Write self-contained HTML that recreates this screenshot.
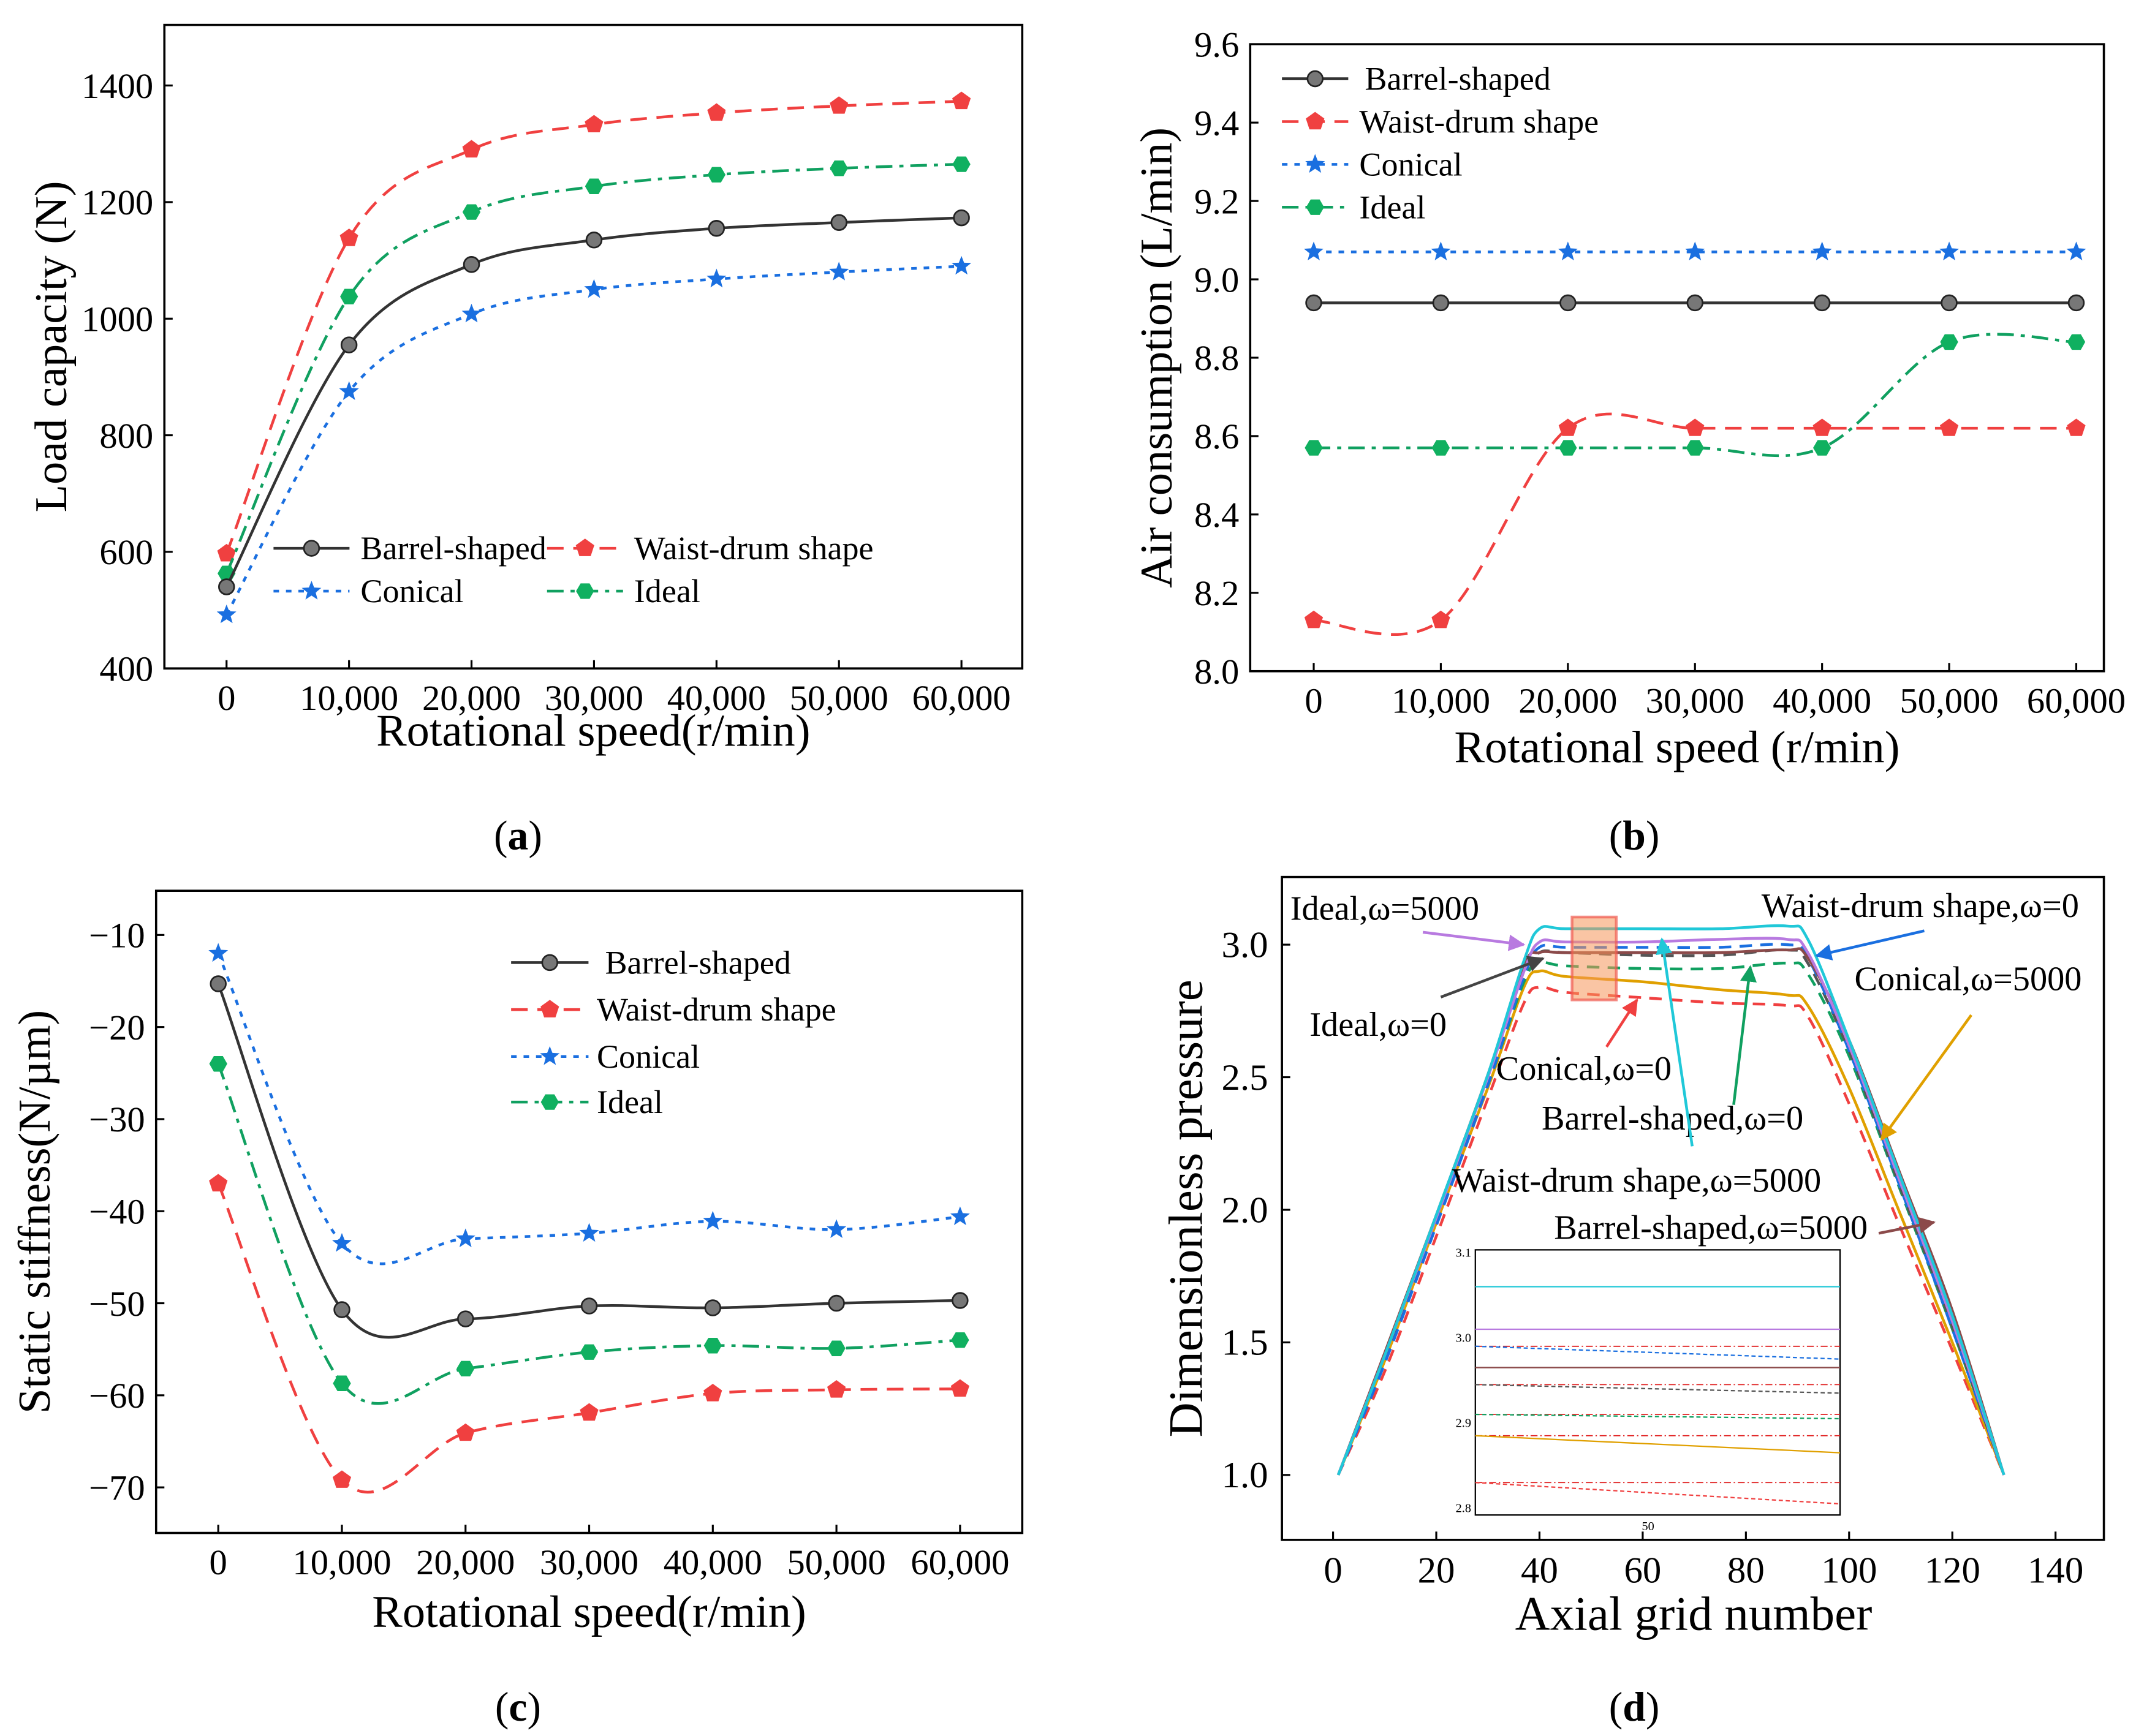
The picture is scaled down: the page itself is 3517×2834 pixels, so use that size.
<!DOCTYPE html>
<html><head><meta charset="utf-8">
<style>
html,body{margin:0;padding:0;background:#fff;}
svg{display:block;font-family:"Liberation Serif",serif;}
svg text{font-family:"Liberation Serif",serif;}
</style></head>
<body>
<svg id="fig" width="3517" height="2834" viewBox="0 0 1560 1257" xmlns="http://www.w3.org/2000/svg" font-family="Liberation Serif, serif">
<defs>
<marker id="arr" viewBox="0 0 10 10" refX="9" refY="5" markerWidth="6" markerHeight="6" orient="auto-start-reverse"><path d="M0,0 L10,5 L0,10 z" fill="context-stroke"/></marker>
</defs>
</svg>
<script>
// ---------- data ----------
const speedCats = [0,10000,20000,30000,40000,50000,60000];
const speedLabels = ["0","10,000","20,000","30,000","40,000","50,000","60,000"];
// (a) load capacity
const aBarrel = [540,955,1093,1135,1155,1165,1173];
const aWaist = [597,1138,1290,1333,1353,1365,1373];
const aConical = [492,875,1008,1050,1068,1080,1090];
const aIdeal = [563,1038,1183,1227,1247,1258,1265];
const aTicks = [400,600,800,1000,1200,1400];
// (b) air consumption
const bBarrel = [8.94,8.94,8.94,8.94,8.94,8.94,8.94];
const bWaist = [8.13,8.13,8.62,8.62,8.62,8.62,8.62];
const bConical = [9.07,9.07,9.07,9.07,9.07,9.07,9.07];
const bIdeal = [8.57,8.57,8.57,8.57,8.57,8.84,8.84];
const bTicks = [8.0,8.2,8.4,8.6,8.8,9.0,9.2,9.4,9.6];
// (c) static stiffness
const cBarrel = [-15.3,-50.7,-51.7,-50.3,-50.5,-50,-49.7];
const cWaist = [-37,-69.2,-64.1,-61.9,-59.8,-59.4,-59.3];
const cConical = [-12,-43.5,-43,-42.4,-41.1,-42,-40.6];
const cIdeal = [-24,-58.7,-57.1,-55.3,-54.6,-54.9,-54];
const cTicks = [-10,-20,-30,-40,-50,-60,-70];
// (d) pressure profiles
const dX = [1,10,20,30,37,40,45,60,75,88,92,100,110,120,130];
const dIdeal5000 = [1.0,1.45,1.97,2.5,2.9,3.01,3.01,3.01,3.02,3.02,2.97,2.62,2.1,1.58,1.0];
const dWaist0 = [1.0,1.42,1.94,2.47,2.88,2.99,2.99,2.99,2.99,3.0,2.95,2.6,2.08,1.55,1.0];
const dConical5000 = [1.0,1.43,1.95,2.46,2.84,2.9,2.88,2.86,2.83,2.81,2.77,2.46,1.98,1.5,1.0];
const dIdeal0 = [1.0,1.44,1.96,2.49,2.88,2.97,2.97,2.96,2.96,2.98,2.93,2.6,2.08,1.56,1.0];
const dConical0 = [1.0,1.39,1.9,2.42,2.78,2.84,2.82,2.8,2.78,2.77,2.73,2.4,1.93,1.47,1.0];
const dBarrel0 = [1.0,1.43,1.95,2.47,2.86,2.93,2.92,2.91,2.91,2.93,2.89,2.58,2.07,1.55,1.0];
const dWaist5000 = [1.0,1.45,1.98,2.51,2.94,3.06,3.06,3.06,3.06,3.07,3.02,2.64,2.12,1.6,1.0];
const dBarrel5000 = [1.0,1.46,1.98,2.51,2.92,2.97,2.97,2.97,2.97,2.98,2.95,2.64,2.13,1.62,1.0];
const dTicksY = [1.0,1.5,2.0,2.5,3.0];
const dTicksX = [0,20,40,60,80,100,120,140];
const insetTicks = [2.8,2.9,3.0,3.1];
const insetVals = [3.06,3.01,2.99,2.965,2.945,2.91,2.885,2.83];
const insetEnds = [3.06,3.01,2.975,2.965,2.935,2.905,2.865,2.805];

// ---------- helpers ----------
const svg = document.getElementById('fig');
const NS = 'http://www.w3.org/2000/svg';
const FF = '"Liberation Serif", serif';
function mk(tag, attrs, parent){
  const e = document.createElementNS(NS, tag);
  for (const k in attrs) e.setAttribute(k, attrs[k]);
  (parent||svg).appendChild(e);
  return e;
}
function smooth(pts){
  let d = 'M'+pts[0][0]+','+pts[0][1];
  for (let i=0;i<pts.length-1;i++){
    const p0=pts[Math.max(0,i-1)],p1=pts[i],p2=pts[i+1],p3=pts[Math.min(pts.length-1,i+2)];
    const c1x=p1[0]+(p2[0]-p0[0])/6,c1y=p1[1]+(p2[1]-p0[1])/6;
    const c2x=p2[0]-(p3[0]-p1[0])/6,c2y=p2[1]-(p3[1]-p1[1])/6;
    d+=' C'+c1x+','+c1y+' '+c2x+','+c2y+' '+p2[0]+','+p2[1];
  }
  return d;
}
function text(x,y,s,size,anchor,parent,extra){
  const t = mk('text', Object.assign({x:x,y:y,'font-size':size,'text-anchor':anchor||'start',fill:'#000','font-family':FF},extra||{}), parent);
  t.style.fontFamily = FF;
  t.textContent = s;
  return t;
}
function marker(g,type,x,y){
  let c;
  if (type==='circle'){
    c = mk('circle',{cx:x,cy:y,r:5.5,fill:'#777',stroke:'#222','stroke-width':1.2},g);
  } else if (type==='pent'){
    let p=[];for(let i=0;i<5;i++){const a=-Math.PI/2+i*2*Math.PI/5;p.push((x+7*Math.cos(a)).toFixed(1)+','+(y+7*Math.sin(a)).toFixed(1));}
    c = mk('polygon',{points:p.join(' '),fill:'#f04040'},g);
  } else if (type==='star'){
    let p=[];for(let i=0;i<10;i++){const a=-Math.PI/2+i*Math.PI/5;const r=i%2?3.2:7.5;p.push((x+r*Math.cos(a)).toFixed(1)+','+(y+r*Math.sin(a)).toFixed(1));}
    c = mk('polygon',{points:p.join(' '),fill:'#1a6fe0'},g);
  } else {
    let p=[];for(let i=0;i<6;i++){const a=i*Math.PI/3;p.push((x+6.5*Math.cos(a)).toFixed(1)+','+(y+6.5*Math.sin(a)).toFixed(1));}
    c = mk('polygon',{points:p.join(' '),fill:'#10b060'},g);
  }
  
  
}
const STY = {
  barrel:{color:'#333',dash:'',m:'circle',name:'Barrel-shaped'},
  waist:{color:'#f04040',dash:'12,7',m:'pent',name:'Waist-drum shape'},
  conical:{color:'#1a6fe0',dash:'4,5',m:'star',name:'Conical'},
  ideal:{color:'#10a060',dash:'12,5,3,5',m:'hex',name:'Ideal'}
};
function panel(id,box,yMin,yMax,xPos0,xPos1,yTicks,fmt,series,ytitle,xtitle,xtitleY,ytitleX,letter,letterX,letterY){
  const g = mk('g',{});
  
  
  const X = v => xPos0 + (v/60000)*(xPos1-xPos0);
  const Y = v => box.y1 - (v-yMin)/(yMax-yMin)*(box.y1-box.y0);
  const fr = mk('rect',{x:box.x0,y:box.y0,width:box.x1-box.x0,height:box.y1-box.y0,fill:'none',stroke:'#000','stroke-width':1.6},g);
  
  
  yTicks.forEach(v=>{
    const y=Y(v);
    mk('line',{x1:box.x0,x2:box.x0+6,y1:y,y2:y,stroke:'#000','stroke-width':1.4},g);
    const t=text(box.x0-8,y+9,fmt(v),26,'end',g);
    
    
  });
  speedCats.forEach((v,i)=>{
    const x=X(v);
    mk('line',{x1:x,x2:x,y1:box.y1,y2:box.y1-6,stroke:'#000','stroke-width':1.4},g);
    const t=text(x,box.y1+30,speedLabels[i],26,'middle',g);
    
    
  });
  const xt=text((box.x0+box.x1)/2,xtitleY,xtitle,33,'middle',g);
  
  
  const cy=(box.y0+box.y1)/2;
  const yt=text(ytitleX,cy,ytitle,33,'middle',g,{transform:'rotate(-90 '+ytitleX+' '+cy+')'});
  
  
  series.forEach(s=>{
    const st=STY[s.k];
    const pts=s.v.map((v,i)=>[X(speedCats[i]),Y(v)]);
    const p=mk('path',{d:smooth(pts),fill:'none',stroke:st.color,'stroke-width':2,'stroke-dasharray':st.dash},g);
    
    
    pts.forEach(q=>marker(g,st.m,q[0],q[1]));
  });
  const lt=mk('text',{x:letterX,y:letterY,'font-size':30,'text-anchor':'middle',fill:'#000','font-family':FF},g);
  lt.innerHTML='(<tspan font-weight="bold">'+letter+'</tspan>)';
  
  
  return g;
}
function legendEntry(g,k,x,y,w,tx){
  const st=STY[k];
  const l=mk('line',{x1:x,x2:x+w,y1:y,y2:y,stroke:st.color,'stroke-width':2,'stroke-dasharray':st.dash},g);
  
  
  marker(g,st.m,x+w/2,y);
  const t=text(tx,y+8,st.name,24,'start',g);
  
  
}

// (a)
const ga = panel('a',{x0:119,x1:740,y0:18,y1:484},400,1504,164,696,aTicks,v=>String(v),
  [{k:'waist',v:aWaist},{k:'ideal',v:aIdeal},{k:'barrel',v:aBarrel},{k:'conical',v:aConical}],
  'Load capacity (N)','Rotational speed(r/min)',540,48,'a',375,615);
legendEntry(ga,'barrel',198,397,55,261);
legendEntry(ga,'waist',396,397,55,459);
legendEntry(ga,'conical',198,428,55,261);
legendEntry(ga,'ideal',396,428,55,459);
// (b)
const gb = panel('b',{x0:905,x1:1523,y0:32,y1:486},8.0,9.6,951,1503,bTicks,v=>v.toFixed(1),
  [{k:'conical',v:bConical},{k:'barrel',v:bBarrel},{k:'waist',v:bWaist},{k:'ideal',v:bIdeal}],
  'Air consumption (L/min)','Rotational speed (r/min)',552,848,'b',1183,615);
legendEntry(gb,'barrel',928,57,48,988);
legendEntry(gb,'waist',928,88,48,984);
legendEntry(gb,'conical',928,119,48,984);
legendEntry(gb,'ideal',928,150,48,984);
// (c)
const gc = panel('c',{x0:113,x1:740,y0:645,y1:1110},-74.95,-5.2,158,695,cTicks,v=>'\u2212'+Math.abs(v),
  [{k:'conical',v:cConical},{k:'barrel',v:cBarrel},{k:'ideal',v:cIdeal},{k:'waist',v:cWaist}],
  'Static stiffness(N/\u00b5m)','Rotational speed(r/min)',1178,36,'c',375,1246);
legendEntry(gc,'barrel',370,697,56,438);
legendEntry(gc,'waist',370,731,56,432);
legendEntry(gc,'conical',370,765,56,432);
legendEntry(gc,'ideal',370,798,56,432);

// (d)
(function(){
  const g=mk('g',{});
  
  
  const box={x0:928,x1:1523,y0:635,y1:1115};
  const X=v=>965+v*(1488-965)/140;
  const Y=v=>1068-(v-1)*(1068-684)/2;
  const fr=mk('rect',{x:box.x0,y:box.y0,width:box.x1-box.x0,height:box.y1-box.y0,fill:'none',stroke:'#000','stroke-width':1.6},g);
  
  
  dTicksY.forEach(v=>{const y=Y(v);mk('line',{x1:box.x0,x2:box.x0+6,y1:y,y2:y,stroke:'#000','stroke-width':1.4},g);
    const t=text(box.x0-10,y+9,v.toFixed(1),27,'end',g);
    
    });
  dTicksX.forEach(v=>{const x=X(v);mk('line',{x1:x,x2:x,y1:box.y1,y2:box.y1-6,stroke:'#000','stroke-width':1.4},g);
    const t=text(x,box.y1+31,String(v),27,'middle',g);
    
    });
  const xt=text(1226,1180,'Axial grid number',35,'middle',g);
  
  
  const yt=text(870,875,'Dimensionless pressure',35,'middle',g,{transform:'rotate(-90 870 875)'});
  
  
  const ser=[
    [dConical0,'#f04040','9,6','conical-0'],
    [dConical5000,'#e0a000','','conical-5000'],
    [dBarrel0,'#10a060','9,6','barrel-0'],
    [dIdeal0,'#555','9,6','ideal-0'],
    [dWaist0,'#1a6fe0','9,6','waist-0'],
    [dBarrel5000,'#8b4a4a','','barrel-5000'],
    [dIdeal5000,'#b87ae0','','ideal-5000'],
    [dWaist5000,'#20c8d8','','waist-5000']];
  ser.forEach(s=>{
    const pts=s[0].map((v,i)=>[X(dX[i]),Y(v)]);
    const p=mk('path',{d:smooth(pts),fill:'none',stroke:s[1],'stroke-width':2,'stroke-dasharray':s[2]},g);
    
    
  });
  const hl=mk('rect',{x:1138,y:664,width:32,height:60,fill:'rgba(245,150,90,0.55)',stroke:'rgba(240,90,80,0.7)','stroke-width':2},g);
  
  
  // inset
  const ib={x0:1068,x1:1332,y0:905,y1:1097};
  const IY=v=>1092-(v-2.8)*(1092-907)/0.3;
  const ir=mk('rect',{x:ib.x0,y:ib.y0,width:ib.x1-ib.x0,height:ib.y1-ib.y0,fill:'#fff',stroke:'#000','stroke-width':1},g);
  
  
  insetTicks.forEach(v=>{const t=text(ib.x0-3,IY(v)+3,v.toFixed(1),9,'end',g);
    
    });
  const it=text(1193,1108,'50',9,'middle',g);
  
  
  const icol=['#20c8d8','#b87ae0','#1a6fe0','#8b4a4a','#555','#10a060','#e0a000','#f04040'];
  const idash=['','','3,2','','3,2','3,2','','3,2'];
  insetVals.forEach((v,i)=>{
    const rl=mk('line',{x1:ib.x0,x2:ib.x1,y1:IY(v),y2:IY(v),stroke:'#e02020','stroke-width':0.8,'stroke-dasharray':'5,2,1,2'},g);
    
    
    const l=mk('line',{x1:ib.x0,x2:ib.x1,y1:IY(v),y2:IY(insetEnds[i]),stroke:icol[i],'stroke-width':1,'stroke-dasharray':idash[i]},g);
    
    
  });
  // annotations
  const ann=[
    ['Ideal,\u03c9=5000',934,666,'start','#b87ae0',[1030,675,1103,684]],
    ['Waist-drum shape,\u03c9=0',1505,664,'end','#1a6fe0',[1393,674,1315,692]],
    ['Conical,\u03c9=5000',1507,717,'end','#e0a000',[1427,735,1362,825]],
    ['Ideal,\u03c9=0',948,750,'start','#444',[1043,722,1117,694]],
    ['Conical,\u03c9=0',1083,782,'start','#f04040',[1163,758,1185,724]],
    ['Barrel-shaped,\u03c9=0',1116,818,'start','#10a060',[1255,800,1267,700]],
    ['Waist-drum shape,\u03c9=5000',1051,863,'start','#20c8d8',[1225,830,1203,680]],
    ['Barrel-shaped,\u03c9=5000',1125,897,'start','#8b4a4a',[1360,893,1400,885]]];
  ann.forEach(a=>{
    const t=text(a[1],a[2],a[0],25,a[3],g);
    
    
    const l=mk('line',{x1:a[5][0],y1:a[5][1],x2:a[5][2],y2:a[5][3],stroke:a[4],'stroke-width':2,'marker-end':'url(#arr)'},g);
    
    
  });
  const lt=mk('text',{x:1183,y:1246,'font-size':30,'text-anchor':'middle',fill:'#000','font-family':FF},g);
  lt.innerHTML='(<tspan font-weight="bold">d</tspan>)';
  
  
})();
</script>
</body></html>
